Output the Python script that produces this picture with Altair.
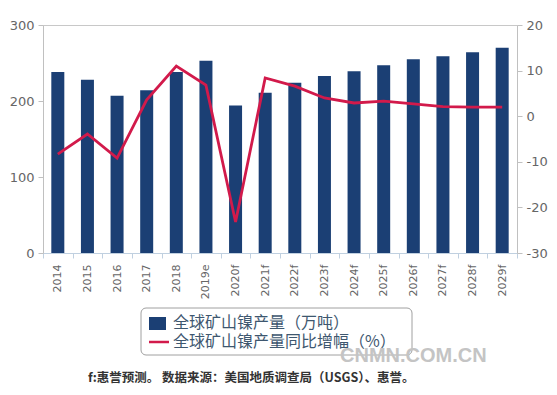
import altair as alt
import pandas as pd

years = ["2014", "2015", "2016", "2017", "2018", "2019e", "2020f", "2021f",
         "2022f", "2023f", "2024f", "2025f", "2026f", "2027f", "2028f", "2029f"]
production = [238, 228, 207, 214, 238, 253, 194, 211,
              224, 233, 239, 247, 255, 259, 264, 270]
growth = [-8.3, -3.9, -9.2, 3.6, 11.0, 6.8, -23.2, 8.4,
          6.6, 4.0, 2.9, 3.3, 2.7, 2.1, 2.0, 2.0]

s1 = "全球矿山镍产量（万吨）"
s2 = "全球矿山镍产量同比增幅（%）"
footer = "f:惠誉预测。 数据来源：美国地质调查局（USGS）、惠誉。"
watermark = "CNMN.COM.CN"

df = pd.DataFrame({"year": years, "prod": production, "growth": growth})

BAR = "#1B3F74"
LINE = "#D21A4B"
LAB = "#666666"

xenc = alt.X("year:N", sort=years, title=None,
             scale=alt.Scale(paddingInner=0, paddingOuter=0),
             axis=alt.Axis(labelAngle=-90, labelFontSize=11, labelColor=LAB,
                           labelFont="DejaVu Sans", tickBand="extent",
                           tickColor="#C0D0E0", tickSize=5, domainColor="#C0D0E0",
                           labelPadding=6, grid=False))

bars = alt.Chart(df).mark_bar(size=13, color=BAR).encode(
    x=xenc,
    y=alt.Y("prod:Q", title=None, scale=alt.Scale(domain=[0, 300], nice=False),
            axis=alt.Axis(values=[0, 100, 200, 300], grid=False, labelFontSize=13,
                          labelColor=LAB, labelFont="DejaVu Sans", tickColor="#C0C0C0",
                          domainColor="#C0C0C0", tickSize=5, labelPadding=4))
)

line = alt.Chart(df).mark_line(color=LINE, strokeWidth=2.8).encode(
    x=alt.X("year:N", sort=years),
    y=alt.Y("growth:Q", title=None, scale=alt.Scale(domain=[-30, 20], nice=False),
            axis=alt.Axis(orient="right", values=[-30, -20, -10, 0, 10, 20], grid=False,
                          labelExpr="'' + datum.value",
                          labelFontSize=13, labelColor=LAB, labelFont="DejaVu Sans",
                          tickColor="#C0C0C0", domainColor="#C0C0C0", tickSize=5,
                          labelPadding=4))
)

one = pd.DataFrame({"a": [0]})
box = alt.Chart(one).mark_rect(fill="white", stroke="#A0A0A0", strokeWidth=1,
                               cornerRadius=5).encode(
    x=alt.value(98), x2=alt.value(369), y=alt.value(283), y2=alt.value(330))
sq = alt.Chart(one).mark_rect(fill=BAR).encode(
    x=alt.value(106), x2=alt.value(123), y=alt.value(292), y2=alt.value(305))
ln = alt.Chart(one).mark_rule(stroke=LINE, strokeWidth=2.5).encode(
    x=alt.value(106), x2=alt.value(126), y=alt.value(317))
t1 = alt.Chart(one).mark_text(text=s1, align="left", baseline="middle", fontSize=16,
                              font="Noto Sans CJK SC", color="#3E576F").encode(
    x=alt.value(130), y=alt.value(298))
t2 = alt.Chart(one).mark_text(text=s2, align="left", baseline="middle", fontSize=16,
                              font="Noto Sans CJK SC", color="#3E576F").encode(
    x=alt.value(130), y=alt.value(317))
wm = alt.Chart(one).mark_text(text=watermark, align="left", baseline="middle", fontSize=20,
                              font="Liberation Sans", fontWeight="bold",
                              color="#C4C4C4").encode(
    x=alt.value(297), y=alt.value(331))
ft = alt.Chart(one).mark_text(text=footer, align="left", baseline="middle", fontSize=12.5,
                              font="Noto Sans CJK SC", fontWeight="bold",
                              color="#333333").encode(
    x=alt.value(45), y=alt.value(353))

main = alt.layer(bars, line).resolve_scale(y="independent")
chart = alt.layer(main, box, sq, ln, t1, t2, wm, ft).properties(
    width=474, height=228,
    autosize=alt.AutoSizeParams(type="none"),
    padding={"left": 35, "top": 17, "right": 32, "bottom": 134},
).configure_view(stroke="#C8C8C8")

chart.save("out.html", embed_options={"renderer": "svg", "actions": False})
